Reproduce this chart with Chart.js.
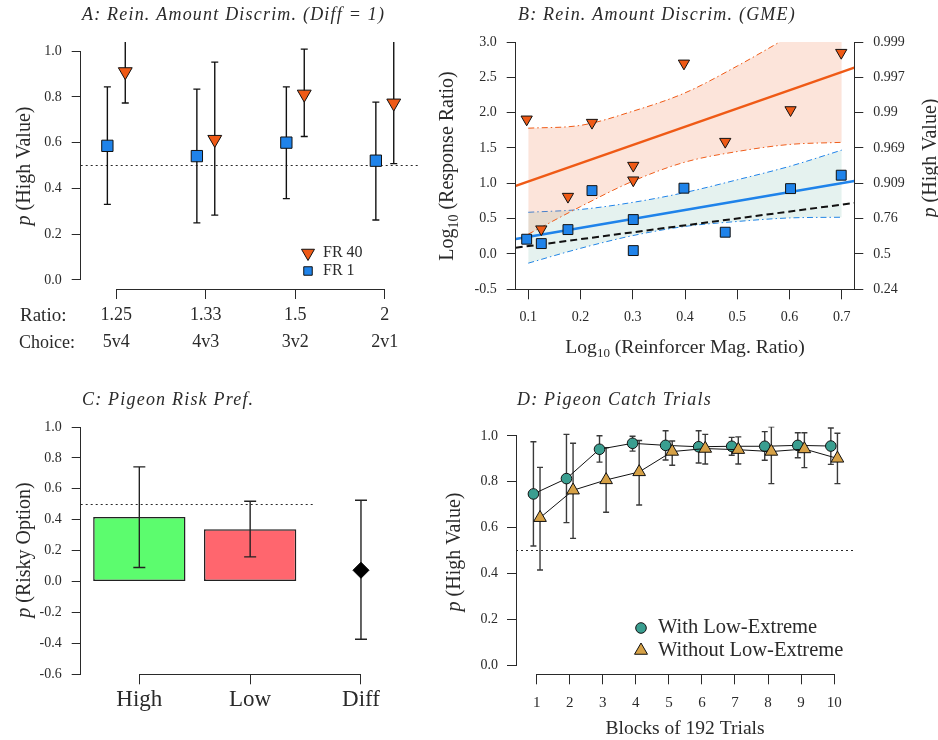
<!DOCTYPE html>
<html>
<head>
<meta charset="utf-8">
<title>Reinforcement amount and risk preference</title>
<script src="https://cdn.jsdelivr.net/npm/chart.js@4/dist/chart.umd.min.js"></script>
<style>
  body { margin: 0; background: #fff; }
  #page { position: relative; width: 938px; height: 740px; overflow: hidden; }
  #page canvas { position: absolute; }
</style>
</head>
<body>
<div id="page">
  <canvas id="chartA" width="430" height="370" style="left:0;top:0"></canvas>
  <canvas id="chartB" width="508" height="370" style="left:430px;top:0"></canvas>
  <canvas id="chartC" width="430" height="370" style="left:0;top:370px"></canvas>
  <canvas id="chartD" width="508" height="370" style="left:430px;top:370px"></canvas>
</div>
<script>
const FONT = "'Liberation Serif', 'Times New Roman', serif";
const INK = '#2a2a2a';
const ORANGE = '#ef5a16';
const BLUE = '#1f83ea';
const TEAL = '#3a9e90';
const TAN = '#d6a146';

// A: amount discrimination, diff = 1
const ratioLabels = ['1.25', '1.33', '1.5', '2'];
const choiceLabels = ['5v4', '4v3', '3v2', '2v1'];
const fr1Mean = [0.586, 0.541, 0.600, 0.521];
const fr1Lo = [0.330, 0.249, 0.355, 0.262];
const fr1Hi = [0.844, 0.834, 0.844, 0.777];
const fr40Mean = [0.910, 0.614, 0.812, 0.773];
const fr40Lo = [0.773, 0.283, 0.627, 0.508];
const fr40Hi = [1.10, 0.952, 1.009, 1.10];
const pTicks = [0, 0.2, 0.4, 0.6, 0.8, 1.0];

// B: generalized matching
const magRatio = [0.097, 0.125, 0.176, 0.222, 0.301, 0.301, 0.398, 0.477, 0.602, 0.699];
const fr40Log = [1.906, 0.351, 0.812, 1.859, 1.251, 1.044, 2.698, 1.590, 2.038, 2.849];
const fr1Log = [0.209, 0.147, 0.345, 0.897, 0.487, 0.048, 0.931, 0.308, 0.925, 1.115];
const fitX = [0.076, 0.724];
const fr40Fit = [0.963, 2.637];
const fr1Fit = [0.212, 1.034];
const matchFit = [0.088, 0.722];
const bandX = [0.1, 0.2, 0.3, 0.4, 0.5, 0.6, 0.7];
const fr40Upper = [1.78, 1.82, 2.02, 2.28, 2.66, 3.08, 3.5];
const fr40Lower = [0.28, 0.67, 1.03, 1.30, 1.45, 1.55, 1.58];
const fr1Upper = [0.59, 0.63, 0.73, 0.87, 1.05, 1.24, 1.47];
const fr1Lower = [-0.13, 0.08, 0.26, 0.39, 0.46, 0.51, 0.52];
const magTicks = [0.1, 0.2, 0.3, 0.4, 0.5, 0.6, 0.7];
const logTicks = [-0.5, 0, 0.5, 1.0, 1.5, 2.0, 2.5, 3.0];
const highValueTicks = ['0.24', '0.5', '0.76', '0.909', '0.969', '0.99', '0.997', '0.999'];

// C: pigeon risk preference
const riskLabels = ['High', 'Low', 'Diff'];
const riskMean = [0.417, 0.339, 0.073];
const riskLo = [0.091, 0.160, -0.373];
const riskHi = [0.742, 0.520, 0.526];
const riskTicks = [-0.6, -0.4, -0.2, 0, 0.2, 0.4, 0.6, 0.8, 1.0];

// D: pigeon catch trials
const blocks = [1, 2, 3, 4, 5, 6, 7, 8, 9, 10];
const withMean = [0.747, 0.814, 0.942, 0.968, 0.959, 0.953, 0.955, 0.955, 0.959, 0.956];
const withLo = [0.520, 0.622, 0.886, 0.934, 0.895, 0.882, 0.916, 0.894, 0.905, 0.876];
const withHi = [0.975, 1.007, 1.001, 0.999, 1.023, 1.023, 0.994, 1.019, 1.014, 1.035];
const withoutMean = [0.643, 0.763, 0.808, 0.843, 0.932, 0.945, 0.940, 0.932, 0.943, 0.902];
const withoutLo = [0.415, 0.553, 0.667, 0.699, 0.872, 0.878, 0.878, 0.792, 0.862, 0.792];
const withoutHi = [0.863, 0.968, 0.949, 0.980, 0.978, 1.007, 0.996, 1.040, 1.014, 1.012];

Chart.defaults.font.family = FONT;
Chart.defaults.color = INK;

function points(xs, ys) {
  return xs.map((x, i) => ({ x: x, y: ys[i] }));
}

// text with italic / subscript pieces, optionally rotated
function richText(ctx, t) {
  const size = t.size || 18;
  const fontOf = p => (p.italic ? 'italic ' : '') + (p.sub ? Math.round(size * 0.68) : size) + 'px ' + FONT;
  ctx.save();
  ctx.translate(t.x, t.y);
  if (t.rotate) ctx.rotate(-Math.PI / 2);
  if (t.spacing) ctx.letterSpacing = t.spacing + 'px';
  let total = 0;
  t.parts.forEach(p => { ctx.font = fontOf(p); total += ctx.measureText(p.t).width; });
  let cx = t.align === 'left' ? 0 : -total / 2;
  ctx.textBaseline = 'middle';
  ctx.textAlign = 'left';
  ctx.fillStyle = INK;
  t.parts.forEach(p => {
    ctx.font = fontOf(p);
    ctx.fillText(p.t, cx, p.sub ? size * 0.3 : 0);
    cx += ctx.measureText(p.t).width;
  });
  ctx.restore();
}

function title(text, x, y) {
  return { parts: [{ t: text, italic: true }], x: x, y: y, size: 18, spacing: 1.2, align: 'left' };
}

function axis(o) {
  return {
    type: 'linear',
    position: o.position,
    min: o.min,
    max: o.max,
    offset: false,
    afterBuildTicks: s => { s.ticks = o.ticks.map(v => ({ value: v })); },
    afterFit: s => { if (s.isHorizontal()) s.height = o.fit; else s.width = o.fit; },
    ticks: {
      callback: o.labels,
      padding: o.pad,
      color: INK,
      autoSkip: false,
      maxRotation: 0,
      font: { family: FONT, size: o.size || 14, lineHeight: o.lineHeight || 1.2 }
    },
    grid: { drawOnChartArea: false, tickLength: o.tickLen || 9, color: INK, offset: false },
    border: { display: false }
  };
}

function drawRefLine(chart, opts) {
  if (opts.refY === undefined) return;
  const { ctx, chartArea: a, scales } = chart;
  const y = Math.round(scales.y.getPixelForValue(opts.refY) - 0.5) + 0.5;
  const x2 = opts.refX2 === undefined ? a.right : scales.x.getPixelForValue(opts.refX2);
  ctx.save();
  ctx.strokeStyle = INK;
  ctx.lineWidth = 1;
  ctx.setLineDash([2, 3]);
  ctx.beginPath();
  ctx.moveTo(a.left, y);
  ctx.lineTo(x2, y);
  ctx.stroke();
  ctx.restore();
}

function drawErrors(chart, opts) {
  const { ctx, chartArea: a, scales } = chart;
  const c = opts.cap || 3.5;
  ctx.save();
  ctx.beginPath();
  ctx.rect(a.left, a.top, a.right - a.left, a.bottom - a.top);
  ctx.clip();
  ctx.strokeStyle = opts.errColor || INK;
  ctx.lineWidth = 1.4;
  chart.data.datasets.forEach((ds, di) => {
    if (!ds.lo) return;
    const meta = chart.getDatasetMeta(di);
    ds.lo.forEach((lo, i) => {
      const x = meta.data[i].x;
      const y1 = scales.y.getPixelForValue(lo);
      const y2 = scales.y.getPixelForValue(ds.hi[i]);
      ctx.beginPath();
      ctx.moveTo(x, y1); ctx.lineTo(x, y2);
      ctx.moveTo(x - c, y1); ctx.lineTo(x + c, y1);
      ctx.moveTo(x - c, y2); ctx.lineTo(x + c, y2);
      ctx.stroke();
    });
  });
  ctx.restore();
}

function drawAxisLines(chart, opts) {
  const { ctx, chartArea: a } = chart;
  const al = p => Math.round(p - 0.5) + 0.5;
  ctx.save();
  ctx.strokeStyle = INK;
  ctx.lineWidth = 1;
  (opts.axes || []).forEach(([id, span]) => {
    const s = chart.scales[id];
    const first = s.getPixelForValue(s.ticks[0].value);
    const last = s.getPixelForValue(s.ticks[s.ticks.length - 1].value);
    ctx.beginPath();
    if (s.isHorizontal()) {
      const y = al(a.bottom);
      ctx.moveTo(span === 'full' ? a.left : al(first) - 0.5, y);
      ctx.lineTo(span === 'full' ? a.right : al(last) + 0.5, y);
    } else {
      const x = al(s.position === 'right' ? a.right : a.left);
      ctx.moveTo(x, span === 'full' ? a.bottom : al(first) + 0.5);
      ctx.lineTo(x, span === 'full' ? a.top : al(last) - 0.5);
    }
    ctx.stroke();
  });
  ctx.restore();
}

function drawLegend(chart, opts) {
  const ctx = chart.ctx;
  (opts.legend || []).forEach(item => {
    ctx.save();
    ctx.fillStyle = item.color;
    ctx.strokeStyle = '#111';
    ctx.lineWidth = 1;
    Chart.helpers.drawPoint(ctx, { pointStyle: item.style, radius: item.radius, rotation: item.rotation || 0, borderWidth: 1 }, item.x, item.y);
    ctx.restore();
    richText(ctx, { parts: [{ t: item.label }], x: item.textX, y: item.y, size: item.size, align: 'left' });
  });
}

const paperPlugin = {
  id: 'paper',
  beforeDatasetsDraw(chart, args, opts) {
    drawRefLine(chart, opts);
    if (opts.errorsAfter === undefined) drawErrors(chart, opts);
  },
  afterDatasetDraw(chart, args, opts) {
    if (opts.errorsAfter === args.index) drawErrors(chart, opts);
  },
  afterDraw(chart, args, opts) {
    drawAxisLines(chart, opts);
    (opts.texts || []).forEach(t => richText(chart.ctx, t));
    drawLegend(chart, opts);
  }
};
Chart.register(paperPlugin);

const base = {
  responsive: false,
  animation: false,
  events: [],
  plugins: { legend: { display: false }, tooltip: { enabled: false } }
};

const pHigh = [{ t: 'p', italic: true }, { t: ' (High Value)' }];

// ---------- A ----------
new Chart(document.getElementById('chartA'), {
  type: 'scatter',
  data: {
    datasets: [{
      label: 'FR 40',
      data: fr40Mean.map((v, i) => ({ x: i + 1.1, y: v })),
      lo: fr40Lo, hi: fr40Hi,
      pointStyle: 'triangle', pointRotation: 180, pointRadius: 8,
      pointBackgroundColor: ORANGE, pointBorderColor: '#111', pointBorderWidth: 1
    }, {
      label: 'FR 1',
      data: fr1Mean.map((v, i) => ({ x: i + 0.9, y: v })),
      lo: fr1Lo, hi: fr1Hi,
      pointStyle: 'rect', pointRadius: 8,
      pointBackgroundColor: BLUE, pointBorderColor: '#111', pointBorderWidth: 1
    }]
  },
  options: {
    ...base,
    layout: { padding: { top: 42, right: 12, left: 0, bottom: 0 } },
    plugins: {
      ...base.plugins,
      paper: {
        refY: 0.5, cap: 3.5, errColor: '#111',
        axes: [['y', 'ticks'], ['x', 'ticks']],
        texts: [
          title('A: Rein. Amount Discrim. (Diff = 1)', 82, 15),
          { parts: pHigh, x: 25, y: 166, size: 20, rotate: true },
          { parts: [{ t: 'Ratio:' }], x: 20, y: 316, size: 19, align: 'left' },
          { parts: [{ t: 'Choice:' }], x: 19, y: 343, size: 18, align: 'left' }
        ],
        legend: [
          { style: 'triangle', rotation: 180, radius: 7.5, color: ORANGE, x: 308, y: 253, textX: 323, label: 'FR 40', size: 16 },
          { style: 'rect', radius: 6, color: BLUE, x: 308, y: 271, textX: 323, label: 'FR 1', size: 16 }
        ]
      }
    },
    scales: {
      x: axis({ position: 'bottom', min: 0.602, max: 4.371, ticks: [1, 2, 3, 4], fit: 81, tickLen: 10, pad: 3, size: 18, lineHeight: 1.5,
        labels: (v, i) => [ratioLabels[i], choiceLabels[i]] }),
      y: axis({ position: 'left', min: -0.04, max: 1.04, ticks: pTicks, fit: 80.7, pad: 10, labels: v => v.toFixed(1) })
    }
  }
});

// ---------- B ----------
const bandLine = (color, ys, fillColor) => ({
  type: 'line',
  data: points(bandX, ys),
  borderColor: color, borderWidth: 1, borderDash: [6, 3, 1.5, 3],
  pointRadius: 0, cubicInterpolationMode: 'monotone',
  fill: fillColor ? '+1' : false,
  backgroundColor: fillColor || 'transparent',
  order: 3
});

new Chart(document.getElementById('chartB'), {
  type: 'scatter',
  data: {
    datasets: [{
      label: 'FR 40',
      data: points(magRatio, fr40Log),
      pointStyle: 'triangle', pointRotation: 180, pointRadius: 6.5,
      pointBackgroundColor: ORANGE, pointBorderColor: '#111', pointBorderWidth: 1,
      order: 1
    }, {
      label: 'FR 1',
      data: points(magRatio, fr1Log),
      pointStyle: 'rect', pointRadius: 7,
      pointBackgroundColor: BLUE, pointBorderColor: '#111', pointBorderWidth: 1,
      order: 1
    }, {
      type: 'line', data: points(fitX, fr40Fit),
      borderColor: ORANGE, borderWidth: 2.5, pointRadius: 0, order: 2
    }, {
      type: 'line', data: points(fitX, fr1Fit),
      borderColor: BLUE, borderWidth: 2.5, pointRadius: 0, order: 2
    }, {
      type: 'line', data: points(fitX, matchFit),
      borderColor: '#111', borderWidth: 2, borderDash: [7, 4], pointRadius: 0, order: 2
    },
      bandLine(ORANGE, fr40Upper, 'rgba(242, 120, 70, 0.2)'),
      bandLine(ORANGE, fr40Lower),
      bandLine(BLUE, fr1Upper, 'rgba(80, 165, 145, 0.15)'),
      bandLine(BLUE, fr1Lower)
    ]
  },
  options: {
    ...base,
    layout: { padding: { top: 42, right: 0, left: 0, bottom: 0 } },
    plugins: {
      ...base.plugins,
      paper: {
        axes: [['y', 'full'], ['y2', 'full'], ['x', 'full']],
        texts: [
          title('B: Rein. Amount Discrim. (GME)', 88, 15),
          { parts: [{ t: 'Log' }, { t: '10', sub: true }, { t: ' (Response Ratio)' }], x: 18, y: 166, size: 20, rotate: true },
          { parts: pHigh, x: 501, y: 158, size: 20, rotate: true },
          { parts: [{ t: 'Log' }, { t: '10', sub: true }, { t: ' (Reinforcer Mag. Ratio)' }], x: 255, y: 348, size: 19.6 }
        ]
      }
    },
    scales: {
      x: axis({ position: 'bottom', min: 0.076, max: 0.724, ticks: magTicks, fit: 80.7, tickLen: 10, pad: 9.6, labels: v => v.toFixed(1) }),
      y: axis({ position: 'left', min: -0.5, max: 3.0, ticks: logTicks, fit: 85.7, pad: 10, labels: v => v.toFixed(1) }),
      y2: axis({ position: 'right', min: -0.5, max: 3.0, ticks: logTicks, fit: 83.7, pad: 10, labels: (v, i) => highValueTicks[i] })
    }
  }
});

// ---------- C ----------
new Chart(document.getElementById('chartC'), {
  type: 'bar',
  data: {
    datasets: [{
      type: 'scatter',
      label: 'Diff',
      data: [{ x: 2, y: riskMean[2] }],
      lo: riskLo.slice(2), hi: riskHi.slice(2),
      pointStyle: 'rectRot', pointRadius: 8,
      pointBackgroundColor: '#000', pointBorderColor: '#000'
    }, {
      type: 'bar',
      label: 'Risky choice',
      data: riskMean.slice(0, 2).map((v, i) => ({ x: i, y: v })),
      lo: riskLo.slice(0, 2), hi: riskHi.slice(0, 2),
      backgroundColor: ['#5cfc6e', '#ff666e'],
      borderColor: '#222', borderWidth: 1.5, borderSkipped: false,
      barPercentage: 0.833, categoryPercentage: 1
    }]
  },
  options: {
    ...base,
    layout: { padding: { top: 57, right: 10.4, left: 0, bottom: 0 } },
    plugins: {
      ...base.plugins,
      paper: {
        refY: 0.5, refX2: 1.586, cap: 6, errColor: '#222', errorsAfter: 1,
        axes: [['y', 'full'], ['x', 'ticks']],
        texts: [
          title('C: Pigeon Risk Pref.', 82, 30),
          { parts: [{ t: 'p', italic: true }, { t: ' (Risky Option)' }], x: 25, y: 180, size: 20, rotate: true }
        ]
      }
    },
    scales: {
      x: axis({ position: 'bottom', min: -0.529, max: 2.529, ticks: [0, 1, 2], fit: 65.7, tickLen: 10, pad: 2, size: 23,
        labels: (v, i) => riskLabels[i] }),
      y: axis({ position: 'left', min: -0.6, max: 1.0, ticks: riskTicks, fit: 80.7, pad: 10, labels: v => v.toFixed(1) })
    }
  }
});

// ---------- D ----------
new Chart(document.getElementById('chartD'), {
  type: 'scatter',
  data: {
    datasets: [{
      label: 'With Low-Extreme',
      data: withMean.map((v, i) => ({ x: blocks[i] - 0.1, y: v })),
      lo: withLo, hi: withHi,
      showLine: true, borderColor: '#111', borderWidth: 1,
      pointStyle: 'circle', pointRadius: 5.3,
      pointBackgroundColor: TEAL, pointBorderColor: '#111', pointBorderWidth: 1,
      order: 2
    }, {
      label: 'Without Low-Extreme',
      data: withoutMean.map((v, i) => ({ x: blocks[i] + 0.1, y: v })),
      lo: withoutLo, hi: withoutHi,
      showLine: true, borderColor: '#111', borderWidth: 1,
      pointStyle: 'triangle', pointRadius: 7.3,
      pointBackgroundColor: TAN, pointBorderColor: '#111', pointBorderWidth: 1,
      order: 1
    }]
  },
  options: {
    ...base,
    layout: { padding: { top: 56.8, right: 84.7, left: 0, bottom: 0 } },
    plugins: {
      ...base.plugins,
      paper: {
        refY: 0.5, cap: 3, errColor: '#3a3a3a',
        axes: [['y', 'ticks'], ['x', 'ticks']],
        texts: [
          title('D: Pigeon Catch Trials', 87, 30),
          { parts: pHigh, x: 25, y: 182, size: 20, rotate: true },
          { parts: [{ t: 'Blocks of 192 Trials' }], x: 255, y: 359, size: 19.5 }
        ],
        legend: [
          { style: 'circle', radius: 5.3, color: TEAL, x: 211, y: 258, textX: 228, label: 'With Low-Extreme', size: 20.5 },
          { style: 'triangle', radius: 7.5, color: TAN, x: 211, y: 280.5, textX: 228, label: 'Without Low-Extreme', size: 20.5 }
        ]
      }
    },
    scales: {
      x: axis({ position: 'bottom', min: 0.373, max: 10.58, ticks: blocks, fit: 65.7, tickLen: 10, pad: 9.4, size: 15,
        labels: v => String(v) }),
      y: axis({ position: 'left', min: -0.04, max: 1.04, ticks: pTicks, fit: 86, pad: 9, labels: v => v.toFixed(1) })
    }
  }
});
</script>
</body>
</html>
